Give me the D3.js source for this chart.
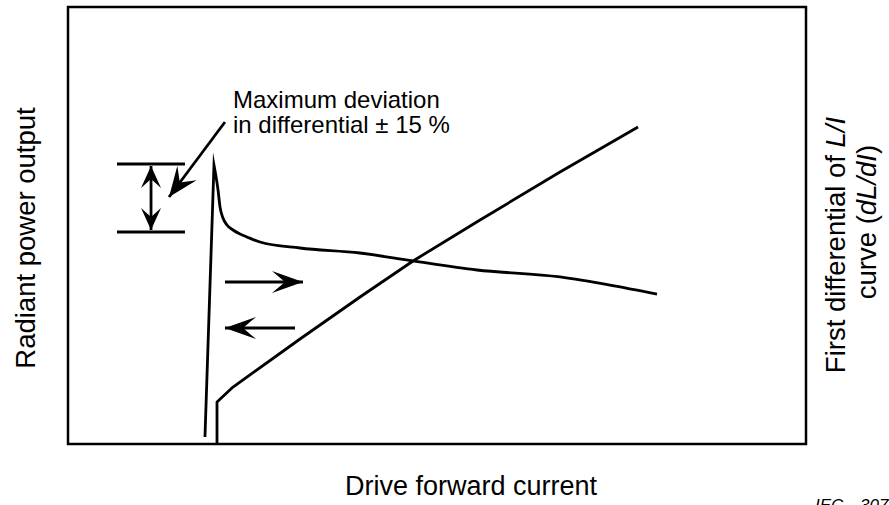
<!DOCTYPE html>
<html>
<head>
<meta charset="utf-8">
<script src="https://cdn.jsdelivr.net/npm/d3@7"></script>
<style>
  html, body { margin: 0; padding: 0; background: #fff; }
  svg { display: block; }
  text { font-family: "Liberation Sans", Arial, Helvetica, sans-serif; fill: #000; }
</style>
</head>
<body>
<svg id="chart" width="889" height="505"></svg>
<script>
// Chart units: both axes run 0–100 across the plotting frame (qualitative axes, no ticks).

// First differential of the L/I curve (dL/dI): rising edge up to the spike, then the decaying tail
const diffX = [18.56, 19.78, 20.33, 20.60, 21.00, 21.54, 22.36, 23.31, 24.25, 26.02, 31.44, 39.57, 46.75, 55.42, 66.67, 73.44, 79.81];
const diffY = [1.60, 63.84, 58.12, 54.23, 51.72, 50.11, 48.97, 48.05, 47.37, 46.22, 44.85, 43.71, 41.88, 39.82, 38.22, 36.38, 34.32];
const diffPeakIndex = 1;

// L/I curve (radiant power output vs drive current)
const liX = [20.19, 20.19, 22.36, 31.44, 39.57, 46.75, 55.83, 66.67, 77.24];
const liY = [0, 9.61, 13.04, 24.03, 33.64, 41.88, 51.26, 62.24, 72.54];

// Direction arrows: [x1, x2, y]
const arrowRight = [21.27, 31.84, 37.07];
const arrowLeft = [30.76, 21.27, 26.54];

// ±15 % band markers
const bandX = [6.64, 15.85];
const bandY = [64.07, 48.51];
const bandArrowX = 11.25;

// Leader arrow to the band: [xFrom, yFrom, xTo, yTo]
const leader = [21.27, 73.68, 13.69, 56.52];

// Annotation text lines and anchor
const noteLines = ["Maximum deviation", "in differential \u00b1 15 %"];
const noteAnchor = [22.36, 76.89];

const xLabel = "Drive forward current";
const yLabel = "Radiant power output";
const y2Label = ["First differential of ", "L/I", "curve (", "dL/dI", ")"];
const refLabel = ["IEC", "307/06"];

const svg = d3.select("#chart");
const frame = { left: 68, top: 7, right: 806, bottom: 444 };

const x = d3.scaleLinear().domain([0, 100]).range([frame.left, frame.right]);
const y = d3.scaleLinear().domain([0, 100]).range([frame.bottom, frame.top]);

// Arrowhead markers
const defs = svg.append("defs");
function headMarker(id, len, half, notch) {
  defs.append("marker")
    .attr("id", id)
    .attr("markerUnits", "userSpaceOnUse")
    .attr("viewBox", `${-len - 2} ${-half - 2} ${len + 4} ${2 * half + 4}`)
    .attr("refX", 0).attr("refY", 0)
    .attr("markerWidth", len + 4).attr("markerHeight", 2 * half + 4)
    .attr("orient", "auto-start-reverse")
    .append("path")
    .attr("d", `M0,0 L${-len},${-half} L${-len + notch},0 L${-len},${half} Z`)
    .attr("fill", "#000");
}
headMarker("head", 31, 11, 13);
headMarker("headBand", 22, 10, 9);
headMarker("headLeader", 30, 12, 12);

// Frame
svg.append("rect")
  .attr("x", x(0)).attr("y", y(100))
  .attr("width", x(100) - x(0)).attr("height", y(0) - y(100))
  .attr("fill", "none").attr("stroke", "#000").attr("stroke-width", 2.5);

const plot = svg.append("g");

// dL/dI curve: straight rising edge into a sharp spike, smooth tail afterwards
const diffRise = d3.line()
  .x(i => x(diffX[i])).y(i => y(diffY[i]));
const diffTail = d3.line()
  .x(i => x(diffX[i])).y(i => y(diffY[i]))
  .curve(d3.curveMonotoneX);
const idx = d3.range(diffX.length);
plot.append("path")
  .attr("d", diffRise(idx.slice(0, diffPeakIndex + 1)) + diffTail(idx.slice(diffPeakIndex)).replace(/^M/, "L"))
  .attr("fill", "none").attr("stroke", "#000").attr("stroke-width", 2.8)
  .attr("stroke-linejoin", "miter").attr("stroke-miterlimit", 10);

// L/I curve
const liLine = d3.line()
  .x(i => x(liX[i])).y(i => y(liY[i]));
plot.append("path")
  .attr("d", liLine(d3.range(liX.length)))
  .attr("fill", "none").attr("stroke", "#000").attr("stroke-width", 2.8)
  .attr("stroke-linejoin", "round");

// Sweep direction arrows
[arrowRight, arrowLeft].forEach(a => {
  plot.append("line")
    .attr("x1", x(a[0])).attr("x2", x(a[1]))
    .attr("y1", y(a[2])).attr("y2", y(a[2]))
    .attr("stroke", "#000").attr("stroke-width", 2.8)
    .attr("marker-end", "url(#head)");
});

// Band limits and double-headed arrow
bandY.forEach(v => {
  plot.append("line")
    .attr("x1", x(bandX[0])).attr("x2", x(bandX[1]))
    .attr("y1", y(v)).attr("y2", y(v))
    .attr("stroke", "#000").attr("stroke-width", 2.8);
});
plot.append("line")
  .attr("x1", x(bandArrowX)).attr("x2", x(bandArrowX))
  .attr("y1", y(bandY[0]) + 2).attr("y2", y(bandY[1]) - 2)
  .attr("stroke", "#000").attr("stroke-width", 2.8)
  .attr("marker-start", "url(#headBand)")
  .attr("marker-end", "url(#headBand)");

// Leader arrow
plot.append("line")
  .attr("x1", x(leader[0])).attr("y1", y(leader[1]))
  .attr("x2", x(leader[2])).attr("y2", y(leader[3]))
  .attr("stroke", "#000").attr("stroke-width", 2.8)
  .attr("marker-end", "url(#headLeader)");

// Annotation text
const note = svg.append("text")
  .attr("x", x(noteAnchor[0])).attr("y", y(noteAnchor[1]))
  .attr("font-size", 24);
noteLines.forEach((t, i) => {
  note.append("tspan")
    .attr("x", x(noteAnchor[0]))
    .attr("dy", i === 0 ? 0 : 25)
    .text(t);
});

// Axis titles
svg.append("text")
  .attr("x", 471).attr("y", 495)
  .attr("text-anchor", "middle").attr("font-size", 27)
  .text(xLabel);

svg.append("text")
  .attr("transform", "translate(35,238) rotate(-90)")
  .attr("text-anchor", "middle").attr("font-size", 27.5)
  .text(yLabel);

const rt = svg.append("text")
  .attr("transform", "translate(845,245) rotate(-90)")
  .attr("text-anchor", "middle").attr("font-size", 27.5);
rt.append("tspan").text(y2Label[0]);
rt.append("tspan").attr("font-style", "italic").text(y2Label[1]);

const rt2 = svg.append("text")
  .attr("transform", "translate(876,222) rotate(-90)")
  .attr("text-anchor", "middle").attr("font-size", 27.5);
rt2.append("tspan").text(y2Label[2]);
rt2.append("tspan").attr("font-style", "italic").text(y2Label[3]);
rt2.append("tspan").text(y2Label[4]);

// Figure reference (runs off the bottom edge)
const ref = svg.append("text")
  .attr("y", 511)
  .attr("font-size", 17).attr("font-style", "italic");
ref.append("tspan").attr("x", 815).text(refLabel[0]);
ref.append("tspan").attr("x", 860).text(refLabel[1]);
</script>
</body>
</html>
